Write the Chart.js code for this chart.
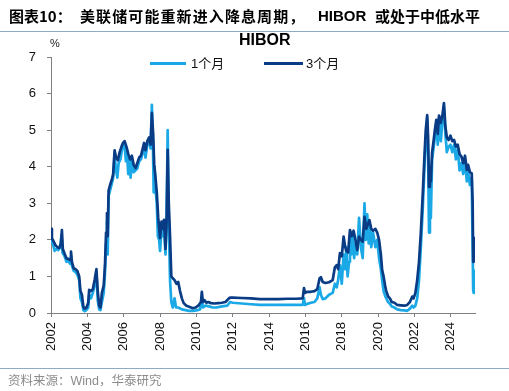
<!DOCTYPE html>
<html>
<head>
<meta charset="utf-8">
<script src="https://cdn.jsdelivr.net/npm/chart.js@4.4.1/dist/chart.umd.min.js"></script>
<style>
  html, body { margin:0; padding:0; background:#fff; }
  #wrap { position:relative; width:509px; height:391px; overflow:hidden; }
  #chartBox { position:absolute; left:0; top:0; width:509px; height:391px; }
  .abs { position:absolute; white-space:nowrap; }
  .hdr { font-family:"Noto Sans CJK SC", sans-serif; font-weight:bold; font-size:15px; line-height:15px; top:8px; color:#000; }
  .lat { font-family:"Liberation Sans", Arial, sans-serif; }
  .rule { position:absolute; left:0; width:509px; height:1px; background:#8fa9c6; }
  .leg { font-family:"Liberation Sans", "Noto Sans CJK SC", sans-serif; font-size:13px; line-height:13px; top:57px; color:#111; }
  .legline { position:absolute; top:62px; height:3px; }
</style>
</head>
<body>
<div id="wrap">
  <div id="chartBox"><canvas id="c"></canvas></div>
  <div class="abs hdr" style="left:9px;">图表10：</div>
  <div class="abs hdr" style="left:80px;letter-spacing:1.1px;">美联储可能重新进入降息周期，</div>
  <div class="abs hdr lat" style="left:318px;">HIBOR</div>
  <div class="abs hdr" style="left:375px;">或处于中低水平</div>
  <div class="rule" style="top:31px;"></div>
  <div class="abs lat" style="left:239px;top:32px;font-size:16px;line-height:16px;font-weight:bold;color:#000;">HIBOR</div>
  <div class="abs lat" style="left:50px;top:38px;font-size:11px;line-height:11px;color:#222;">%</div>
  <div class="legline" style="left:150px;width:36px;background:#1aa9e6;"></div>
  <div class="abs leg" style="left:191px;">1个月</div>
  <div class="legline" style="left:264px;width:39px;background:#0a3c85;"></div>
  <div class="abs leg" style="left:306px;">3个月</div>
  <div class="rule" style="top:368px;"></div>
  <div class="abs" style="left:8px;top:373px;font-family:'Noto Sans CJK SC','Liberation Sans',sans-serif;font-size:12.5px;line-height:14px;color:#8c8c8c;">资料来源：<span class="lat">Wind</span>，华泰研究</div>
</div>
<script>
// ---- Data (decimal years, percent) ----
const tickYears = [2002, 2004, 2006, 2008, 2010, 2012, 2014, 2016, 2018, 2020, 2022, 2024];
const yTicks = [0, 1, 2, 3, 4, 5, 6, 7];

const dates1m = [
  2002.00, 2002.10, 2002.20, 2002.30, 2002.40, 2002.50, 2002.58, 2002.63, 2002.75, 2002.85, 2002.95,
  2003.05, 2003.10, 2003.15, 2003.25, 2003.35, 2003.45, 2003.55, 2003.62, 2003.70, 2003.78, 2003.85, 2003.95,
  2004.05, 2004.10, 2004.20, 2004.30, 2004.40, 2004.50, 2004.57, 2004.65, 2004.72, 2004.80, 2004.90, 2004.97,
  2005.03, 2005.08, 2005.12, 2005.17, 2005.25, 2005.35, 2005.42, 2005.50, 2005.58, 2005.65, 2005.72, 2005.82, 2005.90, 2005.96,
  2006.05, 2006.12, 2006.18, 2006.25, 2006.32, 2006.38, 2006.45, 2006.55, 2006.65, 2006.75, 2006.85, 2006.95,
  2007.05, 2007.12, 2007.20, 2007.30, 2007.40, 2007.48, 2007.55, 2007.60, 2007.65, 2007.70, 2007.75, 2007.82, 2007.88, 2007.95,
  2008.00, 2008.08, 2008.15, 2008.22, 2008.30, 2008.36, 2008.42, 2008.48, 2008.55, 2008.62, 2008.70, 2008.80, 2008.88,
  2009.00, 2009.20, 2009.40, 2009.60, 2009.80, 2010.00, 2010.20, 2010.30, 2010.36, 2010.50, 2010.70, 2010.90,
  2011.10, 2011.40, 2011.70, 2011.85, 2012.00, 2012.50, 2013.00, 2013.50, 2014.00, 2014.50, 2015.00, 2015.50,
  2015.85, 2015.92, 2015.98, 2016.10, 2016.30, 2016.50, 2016.65, 2016.78, 2016.85, 2016.95,
  2017.10, 2017.30, 2017.50, 2017.62, 2017.72, 2017.80, 2017.90,
  2018.00, 2018.10, 2018.18, 2018.25, 2018.32, 2018.40, 2018.45, 2018.52, 2018.60, 2018.68, 2018.75, 2018.85, 2018.95,
  2019.05, 2019.15, 2019.25, 2019.32, 2019.40, 2019.48, 2019.55, 2019.62, 2019.72, 2019.85, 2019.95,
  2020.05, 2020.15, 2020.22, 2020.30, 2020.40, 2020.45, 2020.55, 2020.65, 2020.75, 2020.90,
  2021.05, 2021.25, 2021.45, 2021.60, 2021.75, 2021.88, 2021.95,
  2022.05, 2022.15, 2022.25, 2022.35, 2022.45, 2022.55, 2022.62, 2022.70, 2022.75, 2022.80, 2022.85, 2022.90, 2022.97,
  2023.05, 2023.12, 2023.20, 2023.28, 2023.35, 2023.45, 2023.55, 2023.62, 2023.70, 2023.78, 2023.88, 2023.98,
  2024.08, 2024.18, 2024.28, 2024.38, 2024.48, 2024.58, 2024.68, 2024.78, 2024.88, 2024.95,
  2025.05, 2025.15, 2025.20, 2025.23, 2025.26, 2025.28, 2025.30, 2025.33
];
const hibor1m = [
  2.00, 1.90, 1.70, 1.75, 1.72, 1.80, 2.15, 1.65, 1.55, 1.40, 1.42,
  1.35, 1.55, 1.30, 1.15, 1.12, 1.05, 0.90, 0.40, 0.30, 0.08, 0.05, 0.08,
  0.15, 0.50, 0.40, 0.55, 0.75, 1.10, 0.35, 0.10, 0.08, 0.30, 0.55, 1.10,
  1.90, 2.50, 1.60, 3.20, 3.35, 3.55, 3.70, 4.30, 3.90, 3.70, 4.10, 4.20, 4.45, 4.55,
  4.60, 4.15, 4.40, 3.80, 4.20, 3.70, 4.20, 3.85, 3.90, 3.95, 4.15, 4.20,
  4.40, 4.55, 4.25, 4.60, 4.75, 4.50, 5.69, 4.90, 3.30, 4.00, 3.40, 3.00, 2.10, 2.00,
  1.70, 2.30, 2.10, 2.35, 1.60, 2.60, 5.00, 2.50, 0.90, 0.30, 0.15, 0.40, 0.15,
  0.15, 0.10, 0.08, 0.06, 0.06, 0.07, 0.10, 0.40, 0.15, 0.20, 0.18, 0.15,
  0.15, 0.18, 0.20, 0.30, 0.28, 0.26, 0.24, 0.22, 0.22, 0.22, 0.22, 0.22,
  0.22, 0.40, 0.22, 0.25, 0.28, 0.30, 0.40, 0.70, 0.50, 0.38,
  0.40, 0.50, 0.55, 0.80, 0.70, 0.90, 1.30,
  0.80, 1.60, 1.20, 1.80, 1.00, 1.40, 2.10, 1.60, 2.10, 1.50, 1.90, 1.60, 2.60,
  1.80, 1.50, 3.00, 2.00, 2.70, 1.90, 2.40, 1.80, 2.20, 1.80, 2.00,
  1.50, 1.20, 0.90, 0.60, 0.45, 0.40, 0.30, 0.25, 0.18, 0.15,
  0.10, 0.08, 0.07, 0.06, 0.12, 0.20, 0.15,
  0.20, 0.40, 0.90, 1.80, 2.80, 4.00, 4.70, 5.30, 4.30, 2.20, 3.50, 2.60, 4.20,
  4.50, 4.80, 5.20, 4.60, 5.30, 4.70, 5.35, 5.65, 4.90, 4.40, 4.55, 4.60,
  4.40, 4.60, 4.20, 4.50, 3.90, 4.10, 3.80, 4.20, 3.60, 3.90,
  3.50, 3.70, 1.80, 0.63, 0.55, 1.15, 0.80, 0.95
];

const dates3m = [
  2002.00, 2002.05, 2002.15, 2002.25, 2002.35, 2002.45, 2002.55, 2002.60, 2002.65, 2002.75, 2002.85, 2002.95,
  2003.05, 2003.10, 2003.15, 2003.25, 2003.35, 2003.45, 2003.55, 2003.62, 2003.70, 2003.78, 2003.85, 2003.95,
  2004.05, 2004.10, 2004.20, 2004.30, 2004.40, 2004.50, 2004.57, 2004.65, 2004.72, 2004.80, 2004.90, 2004.97,
  2005.03, 2005.08, 2005.12, 2005.17, 2005.25, 2005.35, 2005.42, 2005.50, 2005.58, 2005.68, 2005.78, 2005.88, 2005.96,
  2006.05, 2006.15, 2006.25, 2006.35, 2006.45, 2006.55, 2006.65, 2006.75, 2006.85, 2006.95,
  2007.05, 2007.12, 2007.20, 2007.30, 2007.40, 2007.48, 2007.55, 2007.62, 2007.68, 2007.75, 2007.82, 2007.90,
  2008.00, 2008.08, 2008.15, 2008.22, 2008.30, 2008.36, 2008.42, 2008.48, 2008.55, 2008.62, 2008.70, 2008.80, 2008.90,
  2009.00, 2009.10, 2009.20, 2009.30, 2009.45, 2009.60, 2009.80, 2009.95,
  2010.10, 2010.25, 2010.30, 2010.36, 2010.45, 2010.55, 2010.65, 2010.80,
  2011.00, 2011.20, 2011.40, 2011.60, 2011.75, 2011.85,
  2012.00, 2012.50, 2013.00, 2013.50, 2014.00, 2014.50, 2015.00, 2015.50, 2015.85, 2015.92, 2015.98,
  2016.10, 2016.30, 2016.50, 2016.65, 2016.78, 2016.85, 2016.95,
  2017.10, 2017.30, 2017.50, 2017.62, 2017.72, 2017.80, 2017.90,
  2018.00, 2018.10, 2018.18, 2018.25, 2018.35, 2018.45, 2018.55, 2018.65, 2018.75, 2018.85, 2018.95,
  2019.05, 2019.15, 2019.25, 2019.35, 2019.45, 2019.52, 2019.62, 2019.72, 2019.85, 2019.95,
  2020.05, 2020.15, 2020.22, 2020.30, 2020.40, 2020.45, 2020.55, 2020.65, 2020.75, 2020.90,
  2021.05, 2021.25, 2021.45, 2021.60, 2021.75, 2021.88, 2021.95,
  2022.05, 2022.15, 2022.25, 2022.35, 2022.45, 2022.55, 2022.62, 2022.70, 2022.75, 2022.80, 2022.85, 2022.90, 2022.97,
  2023.05, 2023.12, 2023.20, 2023.28, 2023.35, 2023.45, 2023.55, 2023.62, 2023.70, 2023.78, 2023.88, 2023.98,
  2024.08, 2024.18, 2024.28, 2024.38, 2024.48, 2024.58, 2024.68, 2024.78, 2024.88, 2024.95,
  2025.05, 2025.15, 2025.20, 2025.23, 2025.26, 2025.28, 2025.30, 2025.33
];
const hibor3m = [
  2.30, 2.05, 1.95, 1.85, 1.80, 1.78, 1.90, 2.27, 1.75, 1.62, 1.50, 1.48,
  1.45, 1.68, 1.40, 1.22, 1.20, 1.15, 1.00, 0.60, 0.50, 0.17, 0.12, 0.15,
  0.28, 0.63, 0.60, 0.65, 0.90, 1.20, 0.60, 0.20, 0.15, 0.55, 0.75, 1.30,
  2.20, 2.73, 2.10, 3.35, 3.50, 3.65, 3.80, 4.45, 4.25, 4.18, 4.40, 4.55, 4.65,
  4.70, 4.55, 4.35, 4.20, 4.30, 4.05, 3.96, 4.10, 4.25, 4.30,
  4.50, 4.65, 4.45, 4.70, 4.80, 4.60, 5.47, 4.90, 4.05, 3.70, 3.30, 2.60,
  2.05, 2.50, 2.30, 2.55, 1.75, 2.50, 4.46, 3.00, 2.09, 1.00, 0.95, 0.90, 0.80,
  0.85, 0.60, 0.40, 0.27, 0.20, 0.17, 0.13, 0.15,
  0.20, 0.30, 0.58, 0.30, 0.35, 0.28, 0.30, 0.27,
  0.26, 0.27, 0.28, 0.30, 0.38, 0.42,
  0.42, 0.41, 0.40, 0.38, 0.38, 0.38, 0.39, 0.39, 0.40, 0.68, 0.55,
  0.58, 0.58, 0.60, 0.65, 0.95, 0.98, 0.85,
  0.82, 0.84, 0.90, 1.25, 1.31, 1.20, 1.64,
  1.55, 2.09, 1.82, 1.70, 1.65, 2.27, 2.10, 2.25, 2.00, 1.72, 2.09,
  2.00, 1.95, 2.63, 2.30, 2.45, 2.54, 2.30, 2.25, 2.30, 2.20,
  2.00, 1.60, 1.18, 1.00, 0.70, 0.60, 0.45, 0.40, 0.30, 0.28,
  0.22, 0.21, 0.20, 0.22, 0.30, 0.45, 0.40,
  0.55, 0.90, 1.40, 2.20, 3.20, 4.30, 5.00, 5.41, 4.80, 3.45, 4.00, 3.60, 4.40,
  4.70, 5.00, 5.28, 4.90, 5.40, 5.20, 5.45, 5.74, 5.10, 4.80, 4.73, 4.85,
  4.70, 4.73, 4.55, 4.60, 4.35, 4.28, 4.10, 4.30, 3.91, 4.05,
  3.85, 3.82, 3.00, 1.40, 1.90, 1.55, 2.05, 1.64
];

const COLOR_1M = '#1aa9e6';
const COLOR_3M = '#0a3c85';
const AXIS_GRAY = '#808080';

const toXY = (xs, ys) => xs.map((x, i) => ({ x: x, y: ys[i] }));

new Chart(document.getElementById('c'), {
  type: 'line',
  data: {
    datasets: [
      { label: '1个月', data: toXY(dates1m, hibor1m), borderColor: COLOR_1M, backgroundColor: COLOR_1M,
        borderWidth: 2.7, pointRadius: 0, tension: 0, order: 1, borderJoinStyle: 'round' },
      { label: '3个月', data: toXY(dates3m, hibor3m), borderColor: COLOR_3M, backgroundColor: COLOR_3M,
        borderWidth: 2.7, pointRadius: 0, tension: 0, order: 0, borderJoinStyle: 'round' }
    ]
  },
  options: {
    responsive: true,
    maintainAspectRatio: false,
    animation: false,
    layout: { padding: { left: 0, top: 57, right: 34, bottom: 0 } },
    plugins: { legend: { display: false }, title: { display: false }, tooltip: { enabled: false } },
    scales: {
      x: {
        type: 'linear',
        min: 2002,
        max: 2025.33,
        afterBuildTicks: (s) => { s.ticks = tickYears.map(v => ({ value: v })); },
        afterFit: (s) => { s.height = 78; },
        border: { color: AXIS_GRAY, width: 1 },
        grid: { display: true, drawOnChartArea: false, drawTicks: true, tickLength: 4, color: AXIS_GRAY },
        ticks: {
          autoSkip: false, maxRotation: 90, minRotation: 90, padding: 5,
          color: '#111', font: { family: 'Liberation Sans', size: 13 },
          callback: (v) => String(v)
        }
      },
      y: {
        type: 'linear',
        min: 0,
        max: 7,
        afterBuildTicks: (s) => { s.ticks = yTicks.map(v => ({ value: v })); },
        afterFit: (s) => { s.width = 51; },
        border: { color: AXIS_GRAY, width: 1 },
        grid: { display: true, drawOnChartArea: false, drawTicks: true, tickLength: 4, color: AXIS_GRAY },
        ticks: { padding: 11, color: '#111', font: { family: 'Liberation Sans', size: 13 } }
      }
    }
  }
});
</script>
</body>
</html>
